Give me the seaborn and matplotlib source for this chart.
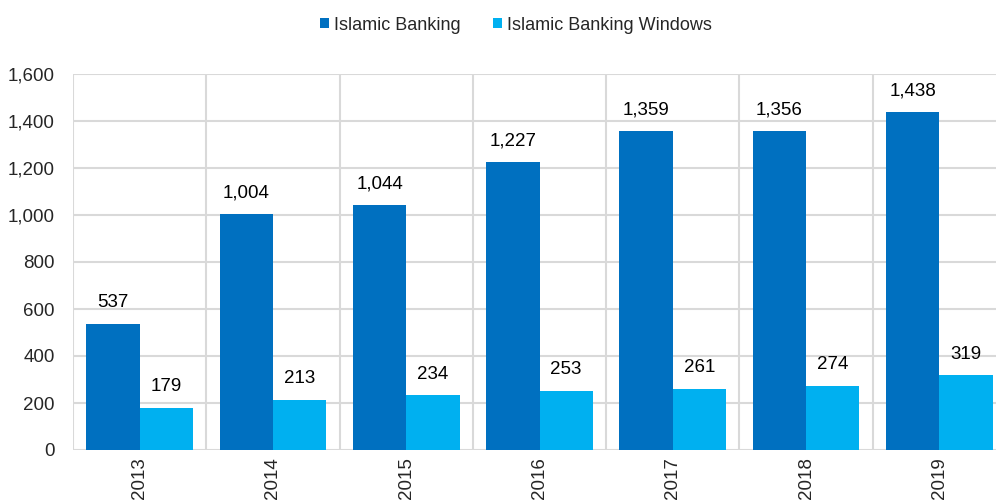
import matplotlib
matplotlib.use("Agg")
import matplotlib.pyplot as plt
import seaborn as sns
import pandas as pd

years = ["2013", "2014", "2015", "2016", "2017", "2018", "2019"]
islamic_banking = [537, 1004, 1044, 1227, 1359, 1356, 1438]
islamic_windows = [179, 213, 234, 253, 261, 274, 319]
series_names = ["Islamic Banking", "Islamic Banking Windows"]
colors = ["#0070C0", "#00B0F0"]

df = pd.DataFrame({
    "Year": years * 2,
    "Value": islamic_banking + islamic_windows,
    "Series": [series_names[0]] * len(years) + [series_names[1]] * len(years),
})

sns.set_style("white")
plt.rcParams["font.family"] = ["Liberation Sans", "DejaVu Sans"]

fig = plt.figure(figsize=(9.96, 5.0), dpi=100)
ax = fig.add_axes([73 / 996, 50 / 500, 933 / 996, 376 / 500])

sns.barplot(data=df, x="Year", y="Value", hue="Series", palette=colors,
            width=0.8, saturation=1, ax=ax, legend=True, linewidth=0)

for c in ax.containers:
    ax.bar_label(c, labels=[f"{int(v.get_height()):,}" for v in c], padding=9,
                 fontsize=13.5, color="#000000")

ax.set_xlim(-0.5, 6.5)
ax.set_ylim(0, 1600)
ax.set_yticks(range(0, 1601, 200))
ax.set_yticklabels([f"{v:,}" for v in range(0, 1601, 200)], fontsize=13.5)
ax.set_xticks(range(len(years)))
ax.set_xticklabels(years, rotation=90, fontsize=13.5, va="top")
ax.tick_params(axis="y", length=0, pad=13)
ax.tick_params(axis="x", length=0, pad=5)
ax.set_xlabel("")
ax.set_ylabel("")

ax.grid(axis="y", color="#D9D9D9", linewidth=1.5)
for x in [i - 0.5 for i in range(len(years) + 1)]:
    ax.axvline(x, color="#D9D9D9", linewidth=1.5, zorder=0)
ax.set_axisbelow(True)
for s in ax.spines.values():
    s.set_visible(False)

handles, labels = ax.get_legend_handles_labels()
if ax.legend_:
    ax.legend_.remove()
fig.legend(handles, labels, loc="center", bbox_to_anchor=(516 / 996, 1 - 25 / 500),
           ncol=2, frameon=False, fontsize=13, handlelength=0.5, handleheight=0.5,
           handletextpad=0.28, columnspacing=1.83, borderpad=0)

fig.savefig("out.png", dpi=100)
